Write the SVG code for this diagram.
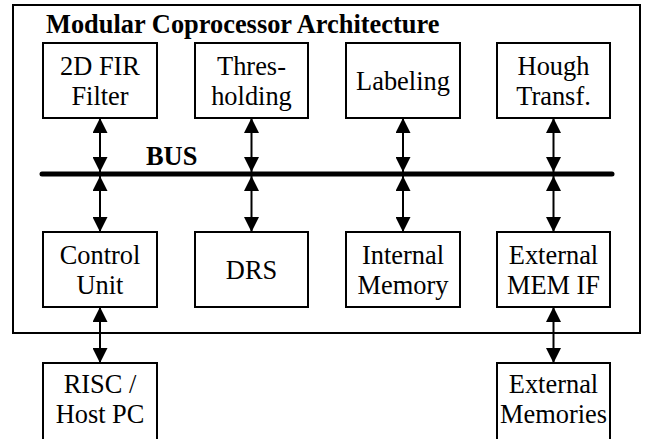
<svg xmlns="http://www.w3.org/2000/svg" width="647" height="439" viewBox="0 0 647 439">
<style>
.box{fill:#fff;stroke:#000;stroke-width:2}
.frame{fill:none;stroke:#000;stroke-width:2}
.t{font-family:"Liberation Serif","Times New Roman",Times,serif;font-size:26.4px;font-weight:normal;fill:#000;text-anchor:middle}
.bold{font-family:"Liberation Serif","Times New Roman",Times,serif;font-size:26.4px;font-weight:bold;fill:#000;text-anchor:start}
.arr{stroke:#000;stroke-width:2;fill:none;marker-start:url(#ah);marker-end:url(#ah)}
</style>
<defs>
<marker id="ah" markerUnits="userSpaceOnUse" markerWidth="15" markerHeight="15" refX="15" refY="7.5" orient="auto-start-reverse" viewBox="0 0 15 15">
<path d="M0,0 L15,7.5 L0,15 z" fill="#000"/>
</marker>
</defs>
<rect id="frame" class="frame" x="13" y="5" width="627" height="328"/>
<text class="bold" x="46" y="33">Modular Coprocessor Architecture</text>
<g id="connectors">
<line x1="42" y1="174" x2="612" y2="174" stroke="#000" stroke-width="5" stroke-linecap="round"/>
<text class="bold" x="146" y="165">BUS</text>
<line class="arr" x1="100" y1="118" x2="100" y2="172"/>
<line class="arr" x1="251.5" y1="118" x2="251.5" y2="172"/>
<line class="arr" x1="403" y1="118" x2="403" y2="172"/>
<line class="arr" x1="553.5" y1="118" x2="553.5" y2="172"/>
<line class="arr" x1="100" y1="176" x2="100" y2="232"/>
<line class="arr" x1="251.5" y1="176" x2="251.5" y2="232"/>
<line class="arr" x1="403" y1="176" x2="403" y2="232"/>
<line class="arr" x1="553.5" y1="176" x2="553.5" y2="232"/>
<line class="arr" x1="100" y1="307" x2="100" y2="363"/>
<line class="arr" x1="553.5" y1="307" x2="553.5" y2="363"/>
</g>
<g id="fir"><rect class="box" x="43" y="43" width="114" height="75"/><text class="t" x="100" y="75">2D FIR</text><text class="t" x="100" y="105">Filter</text></g>
<g id="thresh"><rect class="box" x="195" y="43" width="113" height="75"/><text class="t" x="251.5" y="75">Thres-</text><text class="t" x="251.5" y="105">holding</text></g>
<g id="label"><rect class="box" x="346" y="43" width="114" height="75"/><text class="t" x="403" y="90">Labeling</text></g>
<g id="hough"><rect class="box" x="497" y="43" width="113" height="75"/><text class="t" x="553.5" y="75">Hough</text><text class="t" x="553.5" y="105">Transf.</text></g>
<g id="ctrl"><rect class="box" x="43" y="232" width="114" height="75"/><text class="t" x="100" y="264">Control</text><text class="t" x="100" y="294">Unit</text></g>
<g id="drs"><rect class="box" x="195" y="232" width="113" height="75"/><text class="t" x="251.5" y="279">DRS</text></g>
<g id="intmem"><rect class="box" x="346" y="232" width="114" height="75"/><text class="t" x="403" y="264">Internal</text><text class="t" x="403" y="294">Memory</text></g>
<g id="extif"><rect class="box" x="497" y="232" width="113" height="75"/><text class="t" x="553.5" y="264">External</text><text class="t" x="553.5" y="294">MEM IF</text></g>
<g id="risc"><rect class="box" x="43" y="363" width="114" height="80"/><text class="t" x="100" y="393">RISC /</text><text class="t" x="100" y="423">Host PC</text></g>
<g id="extmem"><rect class="box" x="497" y="363" width="113" height="80"/><text class="t" x="553.5" y="393">External</text><text class="t" x="553.5" y="423">Memories</text></g>
</svg>
